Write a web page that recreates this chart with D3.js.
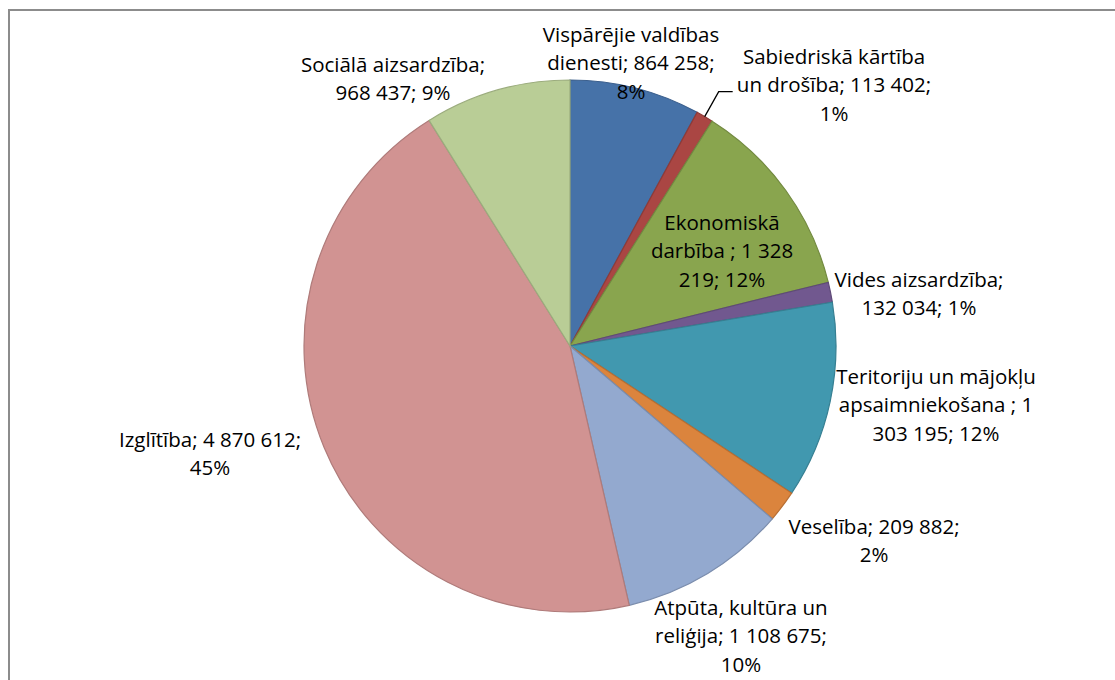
<!DOCTYPE html>
<meta charset="utf-8">
<style>
body { margin: 0; background: #fff; }
text { font-family: "Open Sans", Lato, sans-serif; font-size: 20.5px; fill: #000; }
.frame { fill: none; stroke: #8c8c8c; stroke-width: 2px; }
.leader { fill: none; stroke: #000; stroke-width: 1.3px; }
</style>
<body>
<script src="https://d3js.org/d3.v7.min.js"></script>
<script>

var categories = ["Vispārējie valdības dienesti", "Sabiedriskā kārtība un drošība", "Ekonomiskā darbība ",
    "Vides aizsardzība", "Teritoriju un mājokļu apsaimniekošana ", "Veselība",
    "Atpūta, kultūra un reliģija", "Izglītība", "Sociālā aizsardzība"];
var values = [864258, 113402, 1328219, 132034, 1303195, 209882, 1108675, 4870612, 968437];
var colors = ["#4672a8", "#aa4643", "#89a54e", "#71588f", "#4198af", "#db843d", "#93a9cf", "#d19392", "#b9cd96"];

// label text broken into lines, as in the original
var labelLines = [
  ["Vispārējie valdības", "dienesti; 864 258;", "8%"],
  ["Sabiedriskā kārtība", "un drošība; 113 402;", "1%"],
  ["Ekonomiskā", "darbība ; 1 328", "219; 12%"],
  ["Vides aizsardzība;", "132 034; 1%"],
  ["Teritoriju un mājokļu", "apsaimniekošana ; 1", "303 195; 12%"],
  ["Veselība; 209 882;", "2%"],
  ["Atpūta, kultūra un", "reliģija; 1 108 675;", "10%"],
  ["Izglītība; 4 870 612;", "45%"],
  ["Sociālā aizsardzība;", "968 437; 9%"]
];

var width = 1115,
    height = 680,
    cx = 570,
    cy = 346,
    radius = 266,
    lineH = 28.5;

// label block centres (layout)
var labelPos = [[631, 63], [834, 85], [722, 251], [919, 294], [936, 405],
    [874, 541], [741, 636], [210, 454], [393, 79]];

var svg = d3.select("body").append("svg")
    .attr("width", width)
    .attr("height", height);

svg.append("rect")
    .attr("class", "frame")
    .attr("x", 9)
    .attr("y", 10)
    .attr("width", width + 20)
    .attr("height", height + 20);

var pie = d3.pie().sort(null).value(function(d) { return d; });
var arc = d3.arc().innerRadius(0).outerRadius(radius);
var arcs = pie(values);

var g = svg.append("g").attr("transform", "translate(" + cx + "," + cy + ")");

g.selectAll("path")
    .data(arcs)
    .enter().append("path")
    .attr("d", arc)
    .attr("fill", function(d, i) { return colors[i]; })
    .attr("stroke", function(d, i) { return d3.color(colors[i]).darker(0.5); })
    .attr("stroke-width", 1.2);

// leader line for the small slice
var a = (arcs[1].startAngle + arcs[1].endAngle) / 2;
var p0 = [cx + radius * Math.sin(a), cy - radius * Math.cos(a)];
svg.append("path")
    .attr("class", "leader")
    .attr("d", d3.line()([p0, [p0[0] + 14, p0[1] - 25], [p0[0] + 28, p0[1] - 25]]));

var labels = svg.selectAll("text.lbl")
    .data(labelLines)
    .enter().append("text")
    .attr("class", "lbl")
    .attr("text-anchor", "middle");

labels.each(function(lines, i) {
  var t = d3.select(this),
      y0 = labelPos[i][1] - (lines.length - 1) * lineH / 2;
  lines.forEach(function(s, j) {
    t.append("tspan")
        .attr("x", labelPos[i][0])
        .attr("y", y0 + j * lineH)
        .attr("dy", "0.35em")
        .text(s);
  });
});

</script>
